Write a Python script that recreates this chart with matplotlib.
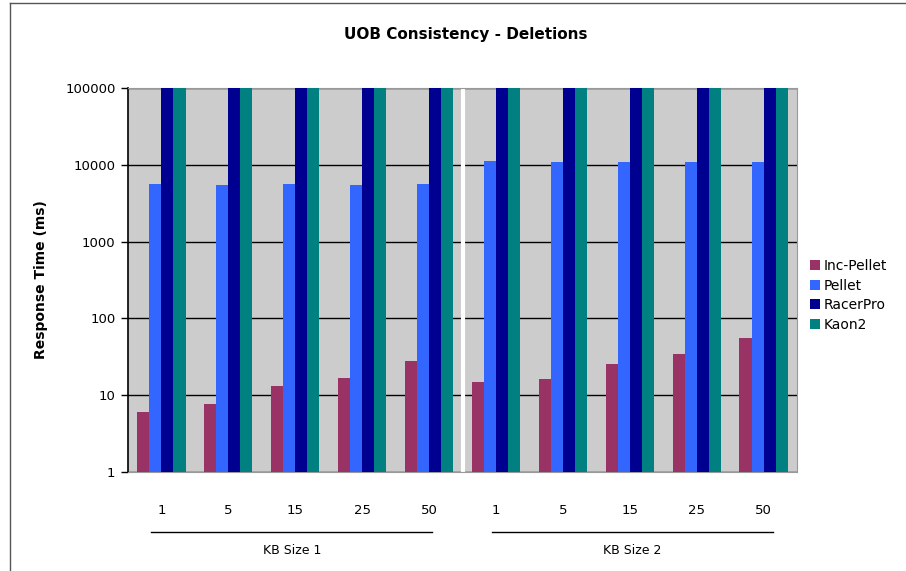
import numpy as np
import matplotlib
matplotlib.use("Agg")
import matplotlib.pyplot as plt
from matplotlib.lines import Line2D

# response times (ms) for deletions, two KB sizes x five update sizes
sizes = ["1", "5", "15", "25", "50"]
groups = ["KB Size 1", "KB Size 2"]
series = ["Inc-Pellet", "Pellet", "RacerPro", "Kaon2"]
colors = ["#993366", "#3366FF", "#000090", "#008080"]

inc_pellet = [6.0, 7.6, 13.2, 16.9, 27.9, 14.9, 16.4, 25.7, 34.7, 56]
pellet = [5700, 5400, 5700, 5400, 5700, 11200, 10800, 10800, 10800, 10800]
racerpro = [100000] * 10
kaon2 = [100000] * 10
values = [inc_pellet, pellet, racerpro, kaon2]

plt.rcParams['font.family'] = ['DejaVu Sans']

fig = plt.figure(figsize=(9.06, 5.71), dpi=100)
ax = fig.add_axes([128 / 906, 1 - 472 / 571, (797 - 128) / 906, (472 - 88) / 571])
ax.set_facecolor("#CCCCCC")

x = np.arange(len(inc_pellet))
w = 0.18
for i, (name, vals, c) in enumerate(zip(series, values, colors)):
    ax.bar(x + (i - 1.5) * w, vals, w, color=c, label=name, zorder=3)

ax.set_yscale("log")
ax.set_ylim(1, 100000)
ax.set_xlim(-0.5, len(x) - 0.5)
ax.set_yticks([1, 10, 100, 1000, 10000, 100000])
ax.set_yticklabels(["1", "10", "100", "1000", "10000", "100000"])
ax.yaxis.set_minor_locator(plt.NullLocator())
ax.grid(axis="y", color="black", linewidth=1, zorder=1)
ax.tick_params(axis="y", length=5, width=1, labelsize=9.5, pad=4, color="black")

# panel separator
ax.axvline(4.5, color="white", linewidth=3, zorder=2)

ax.set_xticks(x)
ax.set_xticklabels(sizes * 2, fontsize=9.5)
ax.tick_params(axis="x", length=0, pad=23)

for s in ["top", "right", "bottom"]:
    ax.spines[s].set_color("#999999")
ax.spines["left"].set_color("black")
ax.spines["left"].set_linewidth(1.2)

ax.set_ylabel("Response Time (ms)", fontsize=10, fontweight="bold", labelpad=12)
fig.text(466 / 906, 1 - 35 / 571, "UOB Consistency - Deletions", ha="center", va="center",
         fontsize=11, fontweight="bold")

# group labels with underline
trans = ax.get_xaxis_transform()
for g, name in enumerate(groups):
    x0 = g * 5.09 - 0.15
    x1 = g * 5.09 + 4.05
    ax.add_line(Line2D([x0, x1], [-0.155, -0.155], transform=trans, color="black",
                       linewidth=1, clip_on=False))
    ax.text((x0 + x1) / 2, -0.205, name, transform=trans, ha="center", va="center", fontsize=9)

ax.legend(loc="center left", bbox_to_anchor=(1.005, 0.46), frameon=False, fontsize=10,
          handlelength=0.7, handleheight=0.7, handletextpad=0.3, labelspacing=0.4,
          borderaxespad=0.3)

# outer frame lines
fig.add_artist(Line2D([10 / 906, 10 / 906], [0, 1 - 3 / 571], color="#555555", linewidth=1))
fig.add_artist(Line2D([10 / 906, 1], [1 - 3 / 571, 1 - 3 / 571], color="#555555", linewidth=1))

fig.savefig("out.png", dpi=100)
